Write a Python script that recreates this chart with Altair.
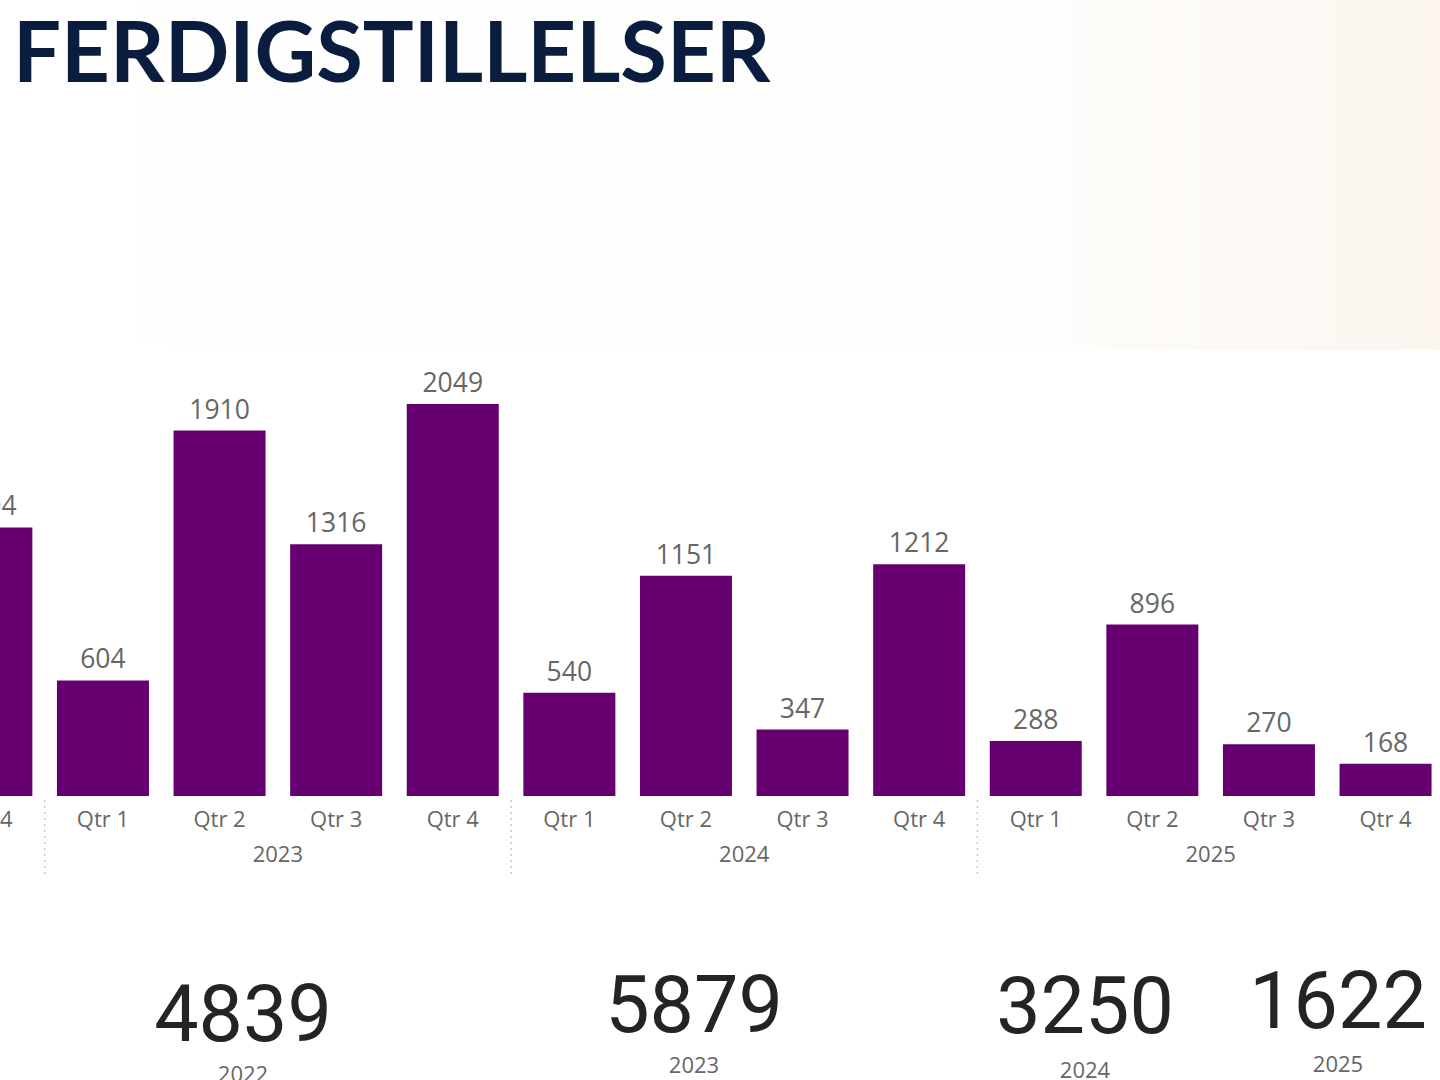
import altair as alt
import pandas as pd

# ---- data ----
years = ["2022", "2023", "2023", "2023", "2023", "2024", "2024", "2024", "2024",
         "2025", "2025", "2025", "2025"]
quarters = [4, 1, 2, 3, 4, 1, 2, 3, 4, 1, 2, 3, 4]
values = [1404, 604, 1910, 1316, 2049, 540, 1151, 347, 1212, 288, 896, 270, 168]

card_years = ["2022", "2023", "2024", "2025"]
card_totals = [4839, 5879, 3250, 1622]

title_text = "FERDIGSTILLELSER"

df = pd.DataFrame({
    "year": years,
    "q": quarters,
    "value": values,
})
df["idx"] = range(len(df))
df["qlabel"] = ["Qtr " + str(q) for q in df["q"]]

W, H = 1440, 1080
BAR = "#660070"
GREY = "#666666"
FONT = "Open Sans"

xscale = alt.Scale(domain=[0.117, 12.467], nice=False, zero=False, padding=0)
yscale = alt.Scale(domain=[-1484.5, 4160.8], nice=False, zero=False, padding=0)

base = alt.Chart(df)

# faint background image area at the top
bg = alt.Chart(pd.DataFrame({"a": [0]})).mark_rect(
    color=alt.Gradient(
        gradient="linear", x1=0, y1=0, x2=1, y2=0,
        stops=[alt.GradientStop(color="#ffffff", offset=0),
               alt.GradientStop(color="#fefefd", offset=0.7),
               alt.GradientStop(color="#fbf5ee", offset=1)]
    )
).encode(x=alt.value(0), x2=alt.value(W), y=alt.value(0), y2=alt.value(350))

bars = base.mark_bar(size=92, color=BAR, clip=True).encode(
    x=alt.X("idx:Q", scale=xscale, axis=None),
    y=alt.Y("value:Q", scale=yscale, axis=None),
    y2=alt.datum(0),
)

labels = base.mark_text(
    clip=True, font=FONT, fontSize=26.5, color=GREY, baseline="alphabetic", dy=-12
).encode(
    x=alt.X("idx:Q", scale=xscale),
    y=alt.Y("value:Q", scale=yscale),
    text=alt.Text("value:Q", format="d"),
)

qlabels = base.mark_text(
    clip=True, font=FONT, fontSize=22, color=GREY, baseline="alphabetic"
).encode(
    x=alt.X("idx:Q", scale=xscale),
    y=alt.value(827),
    text="qlabel:N",
)

year_base = base.transform_calculate(
    center="datum.idx + 2.5 - datum.q"
).transform_aggregate(
    center="mean(center)", groupby=["year"]
).transform_calculate(
    sep="datum.center - 2"
)

ylabels = year_base.mark_text(
    clip=True, font=FONT, fontSize=22, color=GREY, baseline="alphabetic"
).encode(
    x=alt.X("center:Q", scale=xscale),
    y=alt.value(862),
    text="year:N",
)

seps = year_base.mark_rule(
    clip=True, color="#c8c8c8", strokeDash=[2, 4], strokeWidth=1.5
).encode(
    x=alt.X("sep:Q", scale=xscale),
    y=alt.value(800),
    y2=alt.value(876),
)

title = alt.Chart(pd.DataFrame({"t": [title_text]})).mark_text(
    font="Lato", fontSize=85, fontWeight="bold", color="#0b1d3f",
    align="left", baseline="alphabetic"
).encode(x=alt.value(13), y=alt.value(82), text="t:N")

# KPI cards
card_x = [243, 694, 1085, 1338]
card_num_y = [1041, 1032, 1033, 1028]
card_year_y = [1082, 1073, 1078, 1072]
cards = []
for i in range(len(card_years)):
    d = pd.DataFrame({"total": [card_totals[i]], "year": [card_years[i]]})
    cards.append(alt.Chart(d).mark_text(
        font="Roboto", fontSize=79, color="#252423", baseline="alphabetic"
    ).encode(x=alt.value(card_x[i]), y=alt.value(card_num_y[i]),
             text=alt.Text("total:Q", format="d")))
    cards.append(alt.Chart(d).mark_text(
        font=FONT, fontSize=22, color=GREY, baseline="alphabetic"
    ).encode(x=alt.value(card_x[i]), y=alt.value(card_year_y[i]), text="year:N"))

chart = alt.layer(bg, bars, labels, qlabels, ylabels, seps, title, *cards).properties(
    width=W, height=H,
    padding=0,
    autosize=alt.AutoSizeParams(type="none"),
    background="#ffffff",
).configure_view(stroke=None)

chart.save("out.html", embed_options={"renderer": "svg", "actions": False})
